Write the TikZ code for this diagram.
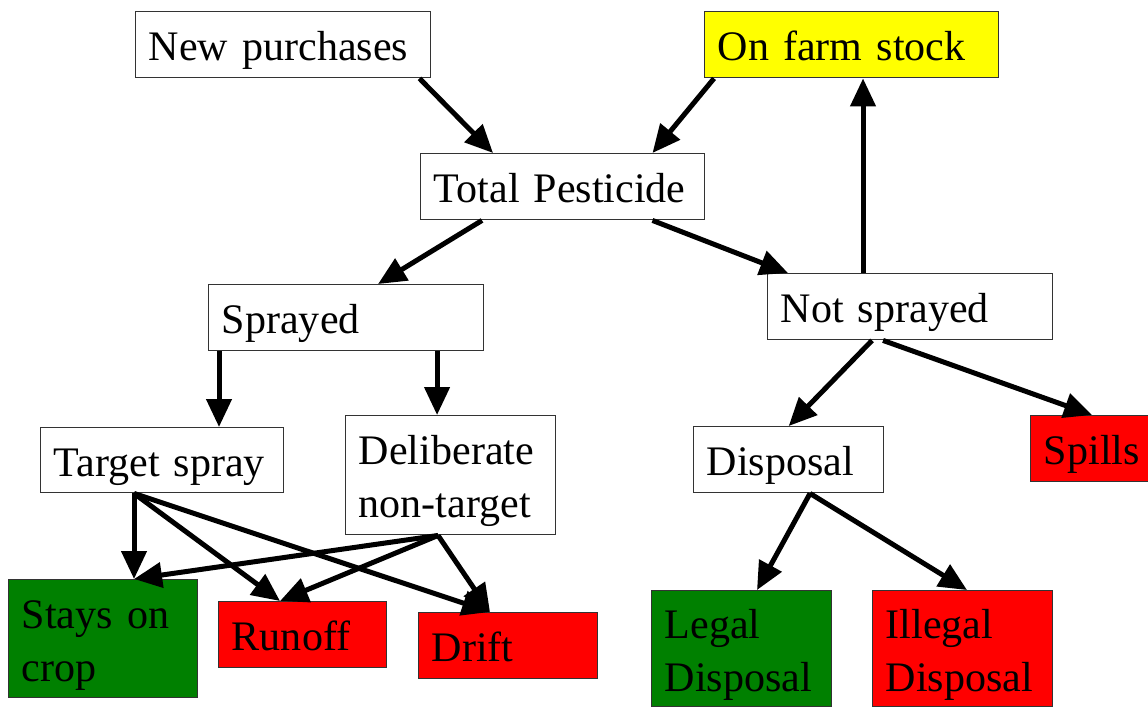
\documentclass[tikz,border=0pt]{standalone}
\usepackage{fontspec}
\setmainfont{Liberation Serif}
\usetikzlibrary{arrows.meta}
\definecolor{boxgreen}{RGB}{0,128,0}
\definecolor{boxred}{RGB}{255,0,0}
\definecolor{boxyellow}{RGB}{255,255,0}
\newcommand{\boxstrut}{\rule[-0.25cm]{0pt}{1.3cm}}
\begin{document}
\begin{tikzpicture}[x=0.025cm, y=-0.025cm,
    box/.style={draw=black!80, line width=1pt, anchor=north west, align=left,
        inner xsep=0.33cm, inner ysep=0pt, minimum height=1.65cm,
        font=\fontsize{29.9}{35.4}\selectfont,
        execute at begin node=\boxstrut, execute at end node=\boxstrut},
    arr/.style={-{Triangle[length=0.7cm, width=0.62cm]}, line width=0.125cm}]
    \useasboundingbox (0,0) rectangle (1148,706);
    \node[box, text width=6.715cm] (purch) at (135,11) {New purchases};
    \node[box, fill=boxyellow, text width=6.69cm] (stock) at (704,11) {On farm stock};
    \node[box, text width=6.44cm] (total) at (420,153) {Total Pesticide};
    \node[box, text width=6.215cm] (spray) at (208,284) {Sprayed};
    \node[box, text width=6.465cm] (notspr) at (767,273) {Not sprayed};
    \node[box, text width=5.415cm, minimum height=1.625cm] (target) at (40,427) {Target spray};
    \node[box, text width=4.59cm, minimum height=2.975cm] (delib) at (345,415) {Deliberate\\non-target};
    \node[box, text width=4.09cm] (disp) at (693,426) {Disposal};
    \node[box, fill=boxred, text width=2.59cm] (spills) at (1030,415) {Spills};
    \node[box, fill=boxgreen, text width=4.065cm, minimum height=2.95cm] (stays) at (8,579) {Stays on\\crop};
    \node[box, fill=boxred, text width=3.54cm] (runoff) at (218,601) {Runoff};
    \node[box, fill=boxred, text width=3.815cm] (drift) at (418,612) {Drift};
    \node[box, fill=boxgreen, text width=3.84cm, minimum height=2.9cm] (legal) at (651,590) {Legal\\Disposal};
    \node[box, fill=boxred, text width=3.84cm, minimum height=2.9cm] (illegal) at (872,590) {Illegal\\Disposal};

    \coordinate (ts) at ([xshift=2.35cm]target.south west);
    \coordinate (ds) at ([xshift=2.325cm]delib.south west);
    \coordinate (dp) at ([xshift=2.925cm]disp.south west);
    \coordinate (ns) at ([xshift=2.4cm]notspr.north west);

    \draw[arr] ([xshift=-0.3cm]purch.south east) -- ([xshift=1.825cm]total.north west);
    \draw[arr] ([xshift=0.25cm]stock.south west) -- ([xshift=-1.325cm]total.north east);
    \draw[arr] ([xshift=1.55cm]total.south west) -- ([xshift=4.25cm]spray.north west);
    \draw[arr] ([xshift=-1.325cm]total.south east) -- ([xshift=0.525cm]notspr.north west);
    \draw[arr] (ns) -- (ns |- stock.south);
    \draw[arr] ([xshift=0.275cm]spray.south west) -- ([xshift=0.275cm]spray.south west |- target.north);
    \draw[arr] ([xshift=5.725cm]spray.south west) -- ([xshift=5.725cm]spray.south west |- delib.north);
    \draw[arr] ([xshift=2.625cm]notspr.south west) -- (disp.north);
    \draw[arr] ([xshift=2.9cm]notspr.south west) -- ([xshift=1.55cm]spills.north west);
    \draw[arr] (dp) -- ([xshift=2.65cm]legal.north west);
    \draw[arr] (dp) -- ([xshift=2.375cm]illegal.north west);
    \draw[arr] (ts) -- (ts |- stays.north);
    \draw[arr] (ts) -- ([xshift=1.55cm]runoff.north west);
    \draw[arr] (ts) -- ([xshift=1.8cm]drift.north west);
    \draw[arr] (ds) -- ([xshift=3.15cm]stays.north west);
    \draw[arr] (ds) -- ([xshift=1.55cm]runoff.north west);
    \draw[arr] (ds) -- ([xshift=1.8cm]drift.north west);
\end{tikzpicture}
\end{document}
